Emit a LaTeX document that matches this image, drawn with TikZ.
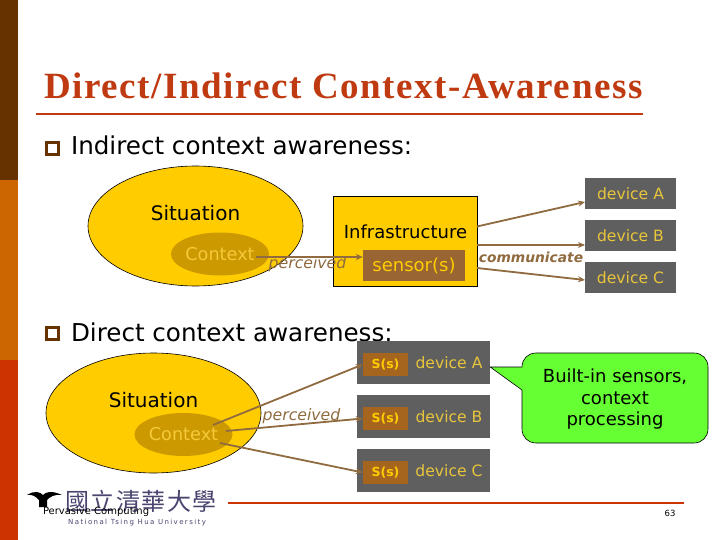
\documentclass[tikz,border=0pt]{standalone}
\usepackage{fontspec}
\usetikzlibrary{shapes.geometric,arrows.meta}
\setmainfont{DejaVu Sans}
\newfontfamily\titlefont[LetterSpace=4.3]{Liberation Serif}
\newfontfamily\cjkfont{Noto Sans CJK TC}
\definecolor{barbrown}{HTML}{663300}
\definecolor{barorange}{HTML}{CC6600}
\definecolor{barred}{HTML}{CC3300}
\definecolor{titlec}{HTML}{BF3A10}
\definecolor{sit}{HTML}{FFCC00}
\definecolor{ctxfill}{HTML}{CC9900}
\definecolor{ctxtext}{HTML}{F5C93A}
\definecolor{link}{HTML}{8F6B3F}
\definecolor{devfill}{HTML}{5F5F5F}
\definecolor{devtext}{HTML}{E8C53A}
\definecolor{senfill}{HTML}{996633}
\definecolor{ssfill}{HTML}{A5651F}
\definecolor{callg}{HTML}{66FF33}
\definecolor{logoc}{HTML}{4A4570}
\tikzset{
  x=1pt,y=-1pt,
  txt/.style={inner sep=0pt,outer sep=0pt,font=\fontsize{#1}{#1}\selectfont,text=black},
  situation/.style={ellipse,draw=black,line width=.6pt,fill=sit,minimum width=215pt,minimum height=120pt,inner sep=0pt},
  contextel/.style={ellipse,fill=ctxfill,minimum width=96pt,minimum height=43pt,inner sep=0pt,text=ctxtext,font=\fontsize{17.7}{17.7}\selectfont},
  device/.style={fill=devfill,text=devtext,inner sep=0pt,font=\fontsize{15.6}{15.6}\selectfont},
  ssbox/.style={fill=ssfill,text=sit,minimum width=45pt,minimum height=23pt,inner sep=0pt,font=\fontsize{12.5}{12.5}\selectfont\bfseries},
  arrowlink/.style={draw=link,line width=1.8pt,-{Stealth[length=7pt,width=6pt]}},
  plainbullet/.style={draw=barbrown,line width=3pt,minimum width=12pt,minimum height=12pt,inner sep=0pt},
  linklabel/.style={inner sep=0pt,text=link,font=\fontsize{15.7}{15.7}\selectfont\itshape},
}
\begin{document}
\begin{tikzpicture}
\useasboundingbox (0,0) rectangle (720,540);
\fill[white] (0,0) rectangle (720,540);
\fill[barbrown] (0,0) rectangle (18,180);
\fill[barorange] (0,180) rectangle (18,360);
\fill[barred] (0,360) rectangle (18,540);
% title
\node[anchor=base west,inner sep=0pt,text=titlec,font=\fontsize{37}{37}\selectfont\titlefont\bfseries] (title) at (44,99) {Direct/Indirect Context-Awareness};
\draw[draw=titlec,line width=1.5pt] (36,114) -- (643,114);
% bullets
\node[plainbullet] (b1) at (52.5,148.5) {};
\node[txt=24.6,anchor=base west] (l1) at (71,155) {Indirect context awareness:};
\node[plainbullet] (b2) at (52.5,333) {};
\node[txt=24.6,anchor=base west] (l2) at (71,341) {Direct context awareness:};
% indirect
\node[situation] (sit1) at (195.5,226) {};
\node[txt=20] (sit1t) at (195.5,213) {Situation};
\node[contextel] (ctx1) at (220,254) {Context};
\node[draw=black,line width=.6pt,fill=sit,minimum width=144.5pt,minimum height=89.5pt,inner sep=0pt] (infra) at (405.25,241.25) {};
\node[txt=18] (infrat) at (405.5,232) {Infrastructure};
\node[fill=senfill,text=sit,minimum width=102pt,minimum height=31pt,inner sep=0pt,font=\fontsize{18}{18}\selectfont] (sensor) at (414,265.5) {sensor(s)};
\node[device,minimum width=91pt,minimum height=31pt] (da) at (630.5,193.5) {device A};
\node[device,minimum width=91pt,minimum height=31pt] (db) at (630.5,235.5) {device B};
\node[device,minimum width=91pt,minimum height=31pt] (dc) at (630.5,277.5) {device C};
\coordinate (c1out) at (256,257);
\coordinate (iA) at (477,226.5);
\coordinate (iB) at (477,245);
\coordinate (iC) at (477,268);
\coordinate (tA) at (585,202);
\coordinate (tB) at (585,245);
\coordinate (tC) at (585,280);
\draw[arrowlink] (c1out) -- (c1out -| sensor.west);
\draw[arrowlink] (iA) -- (tA);
\draw[arrowlink] (iB) -- (tB);
\draw[arrowlink] (iC) -- (tC);
\node[linklabel] (p1) at (307.5,264) {perceived};
\node[inner sep=0pt,text=link,font=\fontsize{13.8}{13.8}\selectfont\bfseries\itshape] (comm) at (531,257) {communicate};
% direct
\node[situation] (sit2) at (153.5,413) {};
\node[txt=20] (sit2t) at (153.5,400) {Situation};
\node[contextel] (ctx2) at (183.5,434.5) {Context};
\node[device,minimum width=133pt,minimum height=43pt] (d2a) at (423.5,362.5) {};
\node[device,minimum width=133pt,minimum height=43pt] (d2b) at (423.5,416.5) {};
\node[device,minimum width=133pt,minimum height=43pt] (d2c) at (423.5,470.5) {};
\node[ssbox] (s2a) at (385.5,364.5) {S(s)};
\node[ssbox] (s2b) at (385.5,418.5) {S(s)};
\node[ssbox] (s2c) at (385.5,472.5) {S(s)};
\node[device] (d2at) at (449,362.5) {device A};
\node[device] (d2bt) at (449,416.5) {device B};
\node[device] (d2ct) at (449,470.5) {device C};
\coordinate (c2a) at (213,425);
\coordinate (c2b) at (226,431);
\coordinate (c2c) at (220,443);
\draw[arrowlink] (c2a) -- (s2a.west);
\draw[arrowlink] (c2b) -- (s2b.west);
\draw[arrowlink] (c2c) -- (s2c.west);
\node[linklabel] (p2) at (301.5,416) {perceived};
% callout
\draw[draw=black,line width=.6pt,fill=callg] (d2a.east |- 0,367) -- (522,367) .. controls (522,359) and (528,353) .. (536,353) -- (694,353) .. controls (702,353) and (708,359) .. (708,367) -- (708,429) .. controls (708,437) and (702,443) .. (694,443) -- (536,443) .. controls (528,443) and (522,437) .. (522,429) -- (522,390) -- cycle;
\node[txt=18,align=center] (callt) at (615,399.5) {Built-in sensors,\\[3.5pt]context\\[3.5pt]processing};
% footer
\draw[draw=barred,line width=1.5pt] (228,503) -- (684,503);
\node[txt=8.5] (pg) at (670,513) {63};
% logo
\node[inner sep=0pt,text=logoc,font=\fontsize{24}{24}\selectfont\cjkfont,anchor=west] (lc) at (65,501) {國\hspace{1.5pt}立\hspace{1.5pt}清\hspace{1.5pt}華\hspace{1.5pt}大\hspace{1.5pt}學};
\node[inner sep=0pt,text=logoc,font=\fontsize{7}{7}\selectfont\addfontfeatures{LetterSpace=20},anchor=west] (lu) at (68,523) {National Tsing Hua University};
\fill[black] (27,495) .. controls (35,490) and (40,492) .. (43,495) .. controls (46,492) and (51,490) .. (62,495) .. controls (54,494) and (50,497) .. (47,500) -- (47,507) -- (39,507) -- (39,500) .. controls (36,497) and (33,494) .. (27,495) -- cycle;
\node[txt=10,anchor=west] (pc) at (43,512) {Pervasive Computing};
\end{tikzpicture}
\end{document}
